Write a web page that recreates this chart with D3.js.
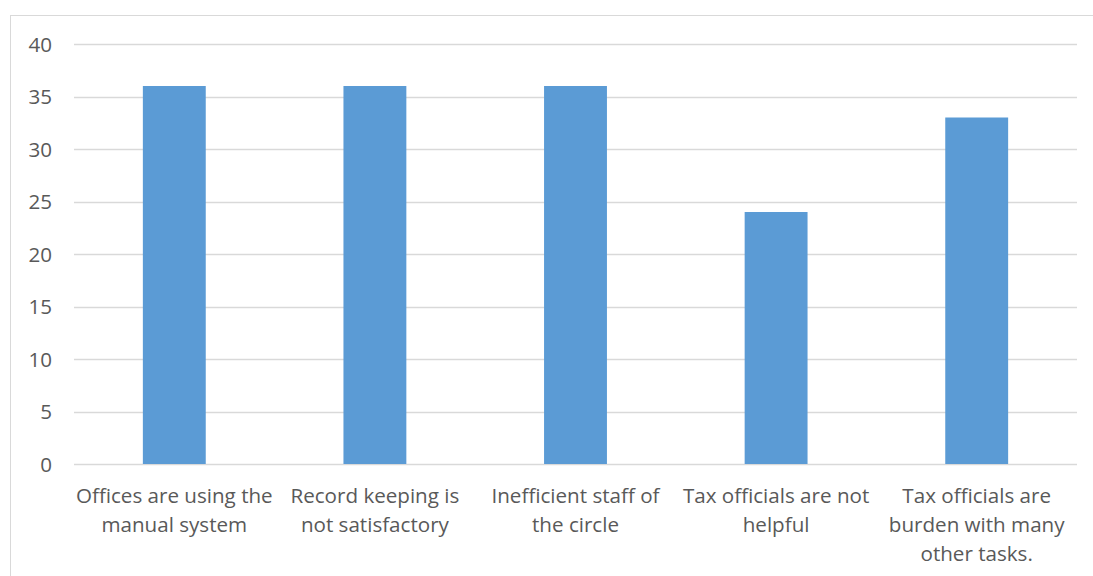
<!DOCTYPE html>
<html><head><meta charset="utf-8">
<script src="https://cdn.jsdelivr.net/npm/d3@7"></script>
<style>body{margin:0;background:#fff;}svg{display:block;}</style>
</head><body>
<script>
const categories = [
  "Offices are using the manual system",
  "Record keeping is not satisfactory",
  "Inefficient staff of the circle",
  "Tax officials are not helpful",
  "Tax officials are burden with many other tasks."
];
const categoryLines = [
  ["Offices are using the", "manual system"],
  ["Record keeping is", "not satisfactory"],
  ["Inefficient staff of", "the circle"],
  ["Tax officials are not", "helpful"],
  ["Tax officials are", "burden with many", "other tasks."]
];
const values = [36, 36, 36, 24, 33];
const yTicks = [0, 5, 10, 15, 20, 25, 30, 35, 40];

const W = 1093, H = 576;
const m = {left: 74, right: 1077, top: 44, bottom: 464};
const font = "'Open Sans', sans-serif";
const fs = 20.6;
const textColor = "#595959";

const svg = d3.select("body").append("svg").attr("width", W).attr("height", H);
svg.append("rect").attr("x", 10.5).attr("y", 15.5).attr("width", 1200).attr("height", 700)
  .attr("fill", "#fff").attr("stroke", "#d9d9d9").attr("stroke-width", 1);

const x = d3.scaleBand().domain(categories).range([m.left, m.right]).paddingInner(0.6865).paddingOuter(0.34325);
const y = d3.scaleLinear().domain([0, 40]).range([m.bottom, m.top]);

// gridlines
svg.append("g").selectAll("line").data(yTicks).join("line")
  .attr("x1", m.left).attr("x2", m.right)
  .attr("y1", d => Math.round(y(d)) + 0.5).attr("y2", d => Math.round(y(d)) + 0.5)
  .attr("stroke", "#d9d9d9").attr("stroke-width", 1.3);

// y axis labels
const yAxis = d3.axisLeft(y).tickValues(yTicks).tickSize(0).tickPadding(0);
const ya = svg.append("g").attr("transform", `translate(${52},0)`).call(yAxis);
ya.select(".domain").remove();
ya.selectAll("text").attr("font-family", font).attr("font-size", fs).attr("fill", textColor).attr("dy", "0.35em");

// bars
svg.append("g").selectAll("rect").data(values).join("rect")
  .attr("x", (d, i) => x(categories[i]))
  .attr("width", x.bandwidth())
  .attr("y", d => y(d))
  .attr("height", d => y(0) - y(d))
  .attr("fill", "#5b9bd5");

// x axis labels
const xa = svg.append("g");
categories.forEach((c, i) => {
  const cx = x(c) + x.bandwidth() / 2;
  const t = xa.append("text").attr("text-anchor", "middle")
    .attr("font-family", font).attr("font-size", fs).attr("fill", textColor);
  categoryLines[i].forEach((ln, j) => {
    t.append("tspan").attr("x", cx).attr("y", 503 + j * 29).text(ln);
  });
});
</script>
</body></html>
